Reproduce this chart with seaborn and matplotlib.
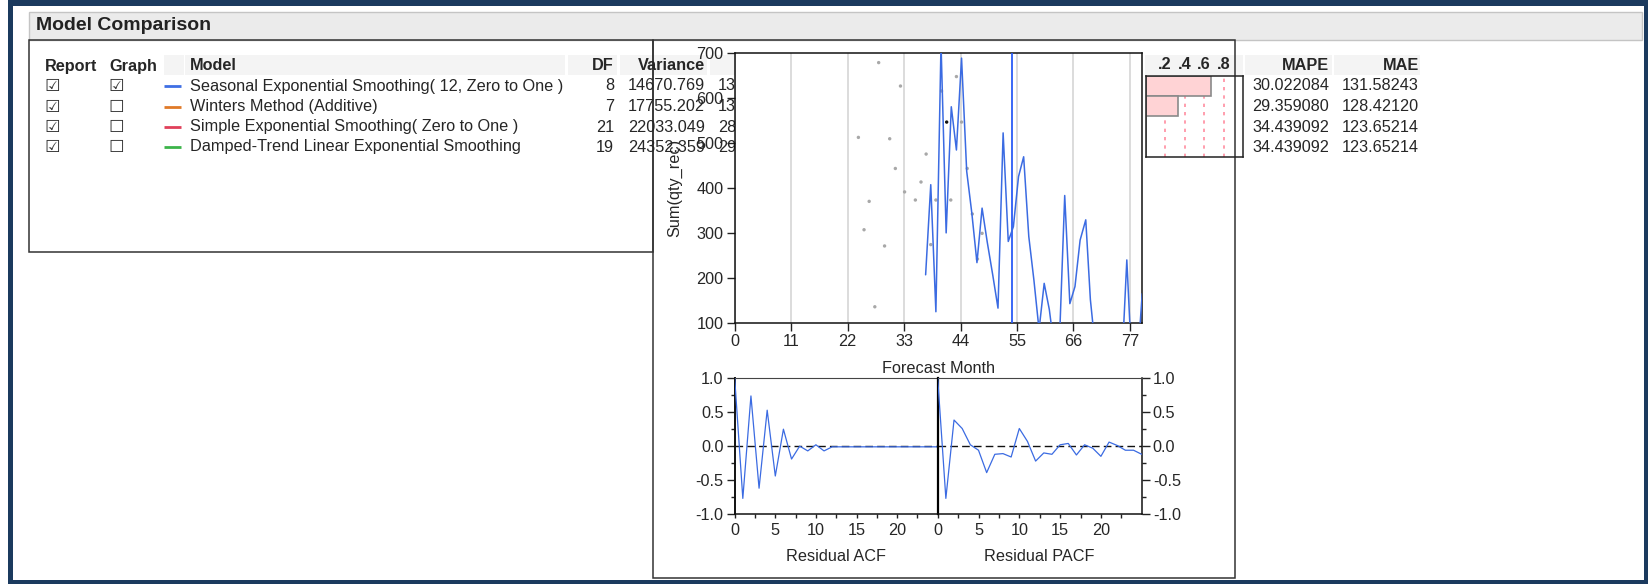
import numpy as np
import pandas as pd
import seaborn as sns
import matplotlib.pyplot as plt
from matplotlib.patches import Rectangle

W, H = 1648, 584

# ---- table data ----
models = ['Seasonal Exponential Smoothing( 12, Zero to One )',
          'Winters Method (Additive)',
          'Simple Exponential Smoothing( Zero to One )',
          'Damped-Trend Linear Exponential Smoothing']
model_colors = ['#3f6fe4', '#e07a28', '#e0405a', '#3cb44a']
report_on = [True, True, True, True]
graph_on = [True, False, False, False]
df_vals = ['8', '7', '21', '19']
variance = ['14670.769', '17755.202', '22033.049', '24352.359']
hidden_col = ['13', '13', '28', '29']
rsq = [0.67, 0.33, 0.0, 0.0]
rsq_ticks = [0.2, 0.4, 0.6, 0.8]
mape = ['30.022084', '29.359080', '34.439092', '34.439092']
mae = ['131.58243', '128.42120', '123.65214', '123.65214']

# ---- forecast plot data ----
fc_month = [37.2, 38.2, 39.2, 40.2, 41.2, 42.2, 43.2, 44.2, 45.2, 46.2, 47.2, 48.2,
            49.2, 50.3, 51.3, 52.3, 53.3, 54.3, 55.3, 56.3, 57.3, 58.3, 59.3, 60.3,
            61.3, 62.3, 63.3, 64.3, 65.3, 66.3, 67.3, 68.4, 69.3, 70.3, 71.3, 72.3,
            73.3, 74.3, 75.4, 76.4, 77.4, 78.4, 79.4]
fc_qty = [207, 407, 125, 720, 300, 580, 484, 688, 437, 344, 234, 355,
          280, 205, 133, 522, 281, 314, 425, 469, 292, 195, 85, 188,
          130, 40, 68, 383, 143, 181, 284, 329, 152, 40, 20, 10,
          25, 15, 0, 240, 0, 0, 165]
forecast_origin = 54.1

obs_month = [24.1, 25.2, 26.2, 27.3, 28.05, 29.2, 30.2, 31.3, 32.3, 33.1, 35.2, 36.3,
             37.3, 38.2, 39.2, 40.3, 42.1, 43.2, 44.2, 45.3, 46.3, 47.3, 48.2]
obs_qty = [512, 307, 370, 136, 678, 271, 509, 443, 626, 391, 373, 413,
           475, 274, 373, 615, 373, 647, 546, 443, 342, 242, 299]
sel_month = [41.3]
sel_qty = [546]

# ---- residual ACF / PACF ----
lags = [0, 1, 2, 3, 4, 5, 6, 7, 8, 9, 10, 11, 12, 13, 14, 15, 16, 17, 18, 19, 20,
        21, 22, 23, 24, 25]
acf = [1.0, -0.77, 0.74, -0.62, 0.53, -0.44, 0.25, -0.19, 0.0, -0.07, 0.02, -0.07,
       -0.01, -0.01, -0.01, -0.01, -0.01, -0.01, -0.01, -0.01, -0.01, -0.01, -0.01,
       -0.01, -0.01, -0.01]
pacf = [1.0, -0.77, 0.385, 0.26, 0.02, -0.06, -0.39, -0.12, -0.11, -0.16, 0.26, 0.07,
        -0.22, -0.10, -0.12, 0.02, 0.04, -0.13, 0.02, -0.03, -0.15, 0.06, 0.01,
        -0.06, -0.06, -0.12]

sns.set_theme(style='white')
plt.rcParams['font.family'] = ['Liberation Sans', 'DejaVu Sans']

FS = 11.7
BLUE = '#3b6be2'


def fig_rect(x0, y0, x1, y1):
    return [x0 / W, 1 - y1 / H, (x1 - x0) / W, (y1 - y0) / H]


fig = plt.figure(figsize=(W / 100, H / 100), dpi=100)

# background layer in pixel coordinates: frame, boxes and the report tables
bg = fig.add_axes([0, 0, 1, 1], zorder=0)
bg.set_xlim(0, W)
bg.set_ylim(H, 0)
bg.axis('off')

navy = '#1b3a5e'
for r in [(8, 0, 5, H), (8, 0, W - 8, 6), (W - 4, 0, 4, H), (8, H - 4, W - 8, 4)]:
    bg.add_patch(Rectangle(r[:2], r[2], r[3], color=navy, lw=0))

bg.add_patch(Rectangle((29, 12), 1613, 28, facecolor='#ebebeb', edgecolor='#c4c4c4', lw=1))
bg.text(36, 26, 'Model Comparison', fontsize=14, fontweight='bold', va='center', color='#222222')

bg.add_patch(Rectangle((29, 40), 624, 212, facecolor='none', edgecolor='#333333', lw=1.1, zorder=2))
bg.add_patch(Rectangle((653, 40), 582, 538, facecolor='none', edgecolor='#333333', lw=1.1, zorder=2))

# header bands
for x0, x1 in [(164, 184), (185, 565), (568, 617), (620, 707), (710, 736),
               (1145, 1243), (1245, 1332), (1334, 1420)]:
    bg.add_patch(Rectangle((x0, 55), x1 - x0, 20, facecolor='#f4f4f4', lw=0, zorder=1))

hy = 66
bg.text(45, hy, 'Report', fontsize=FS, fontweight='bold', va='center', zorder=3)
bg.text(109, hy, 'Graph', fontsize=FS, fontweight='bold', va='center', zorder=3)
bg.text(190, hy, 'Model', fontsize=FS, fontweight='bold', va='center', zorder=3)
bg.text(614, hy, 'DF', fontsize=FS, fontweight='bold', va='center', ha='right', zorder=3)
bg.text(705, hy, 'Variance', fontsize=FS, fontweight='bold', va='center', ha='right', zorder=3)
bg.text(1329, hy, 'MAPE', fontsize=FS, fontweight='bold', va='center', ha='right', zorder=3)
bg.text(1419, hy, 'MAE', fontsize=FS, fontweight='bold', va='center', ha='right', zorder=3)

row_y = [86, 106.5, 127, 147]
for i, y in enumerate(row_y):
    bg.text(44, y, '☑' if report_on[i] else '☐', fontsize=12.5, family='DejaVu Sans',
            va='center', color='#333333', zorder=3)
    bg.text(108, y, '☑' if graph_on[i] else '☐', fontsize=12.5, family='DejaVu Sans',
            va='center', color='#333333', zorder=3)
    bg.plot([164, 181], [y, y], color=model_colors[i], lw=2, solid_capstyle='butt', zorder=3)
    bg.text(190, y, models[i], fontsize=FS, va='center', zorder=3)
    bg.text(614, y, df_vals[i], fontsize=FS, va='center', ha='right', zorder=3)
    bg.text(705, y, variance[i], fontsize=FS, va='center', ha='right', zorder=3)
    bg.text(718, y, hidden_col[i], fontsize=FS, va='center', zorder=3)
    bg.text(1329, y, mape[i], fontsize=FS, va='center', ha='right', zorder=3)
    bg.text(1419, y, mae[i], fontsize=FS, va='center', ha='right', zorder=3)

# small bar column inside the table
axb = fig.add_axes(fig_rect(1145.7, 75.7, 1243, 156.7), zorder=1)
axb.patch.set_alpha(0)
for t in rsq_ticks:
    axb.axvline(t, color='#ff8da0', lw=1.2, ls=(0, (2, 3)), zorder=0)
bar_df = pd.DataFrame({'model': models, 'rsq': rsq})
sns.barplot(data=bar_df, x='rsq', y='model', orient='h', color='#ffd3d5', saturation=1,
            edgecolor='#8a8a8a', linewidth=1.2, width=1.0, ax=axb, zorder=2)
axb.set_xlim(0, 1)
axb.set_ylim(3.5, -0.5)
axb.set_yticks([])
axb.set_xlabel('')
axb.set_ylabel('')
axb.xaxis.tick_top()
axb.set_xticks(rsq_ticks)
axb.set_xticklabels(['.2', '.4', '.6', '.8'], fontsize=FS, fontweight='bold')
axb.tick_params(axis='x', length=0, pad=3)
for s in axb.spines.values():
    s.set_color('#222222')
    s.set_linewidth(1.1)

# forecast plot
ax = fig.add_axes(fig_rect(734.7, 52.7, 1141.7, 323), zorder=2)
ax.set_facecolor('white')
ax.grid(axis='x', color='#d6d6d6', lw=1.2)
ax.axvline(forecast_origin, color='#2a5cf6', lw=1.3, zorder=3)
sns.scatterplot(x=obs_month, y=obs_qty, color='#a8a8a8', s=6, edgecolor='none', ax=ax, zorder=2)
sns.scatterplot(x=sel_month, y=sel_qty, color='#111111', s=6, edgecolor='none', ax=ax, zorder=2)
sns.lineplot(x=fc_month, y=fc_qty, color=BLUE, lw=1.1, ax=ax, zorder=4)
ax.set_xlim(0, 79.3)
ax.set_ylim(100, 700)
ax.set_xticks([0, 11, 22, 33, 44, 55, 66, 77])
ax.set_yticks([100, 200, 300, 400, 500, 600, 700])
ax.tick_params(axis='both', direction='out', length=6, width=1, labelsize=FS, color='#222222',
               bottom=True, left=True, pad=2)
ax.set_xlabel('Forecast Month', fontsize=FS)
ax.set_ylabel('Sum(qty_rec)', fontsize=FS)
ax.xaxis.set_label_coords(0.5, -0.139)
ax.yaxis.set_label_coords(-0.128, 0.5)
for s in ax.spines.values():
    s.set_color('#111111')
    s.set_linewidth(1.1)

# residual ACF / PACF
ax_acf = fig.add_axes(fig_rect(734.7, 378.3, 937.7, 514), zorder=1.5)
ax_pacf = fig.add_axes(fig_rect(937.7, 378.3, 1141.7, 514), zorder=1.5)
for a, vals, name in [(ax_acf, acf, 'Residual ACF'), (ax_pacf, pacf, 'Residual PACF')]:
    a.set_facecolor('white')
    a.axhline(0, color='#111111', lw=1.0, ls=(0, (5.5, 3)), zorder=1)
    sns.lineplot(x=lags, y=vals, color=BLUE, lw=0.9, ax=a, zorder=3)
    a.set_xlim(0, 25)
    a.set_ylim(-1, 1)
    a.set_xticks([0, 5, 10, 15, 20])
    a.set_xticks([2.5, 7.5, 12.5, 17.5, 22.5], minor=True)
    a.set_yticks([-1, -0.5, 0, 0.5, 1])
    a.set_yticklabels(['-1.0', '-0.5', '0.0', '0.5', '1.0'])
    a.set_yticks([-0.75, -0.25, 0.25, 0.75], minor=True)
    a.tick_params(axis='x', which='both', direction='out', length=3.2, width=1,
                  labelsize=FS, color='#222222', bottom=True, pad=3)
    a.set_xlabel(name, fontsize=FS, labelpad=8)
    a.spines['top'].set_color('#444444')
    a.spines['top'].set_linewidth(0.8)
    a.spines['bottom'].set_color('#111111')
    a.spines['bottom'].set_linewidth(1.1)

ax_acf.spines['right'].set_visible(False)
ax_acf.spines['left'].set_color('#111111')
ax_acf.spines['left'].set_linewidth(1.4)
ax_acf.tick_params(axis='y', which='major', direction='out', length=6, width=1,
                   labelsize=FS, color='#222222', left=True, pad=2)
ax_acf.tick_params(axis='y', which='minor', direction='out', length=3.2, width=1,
                   color='#222222', left=True)

ax_pacf.spines['left'].set_color('#000000')
ax_pacf.spines['left'].set_linewidth(1.6)
ax_pacf.spines['right'].set_color('#111111')
ax_pacf.spines['right'].set_linewidth(1.1)
ax_pacf.yaxis.tick_right()
ax_pacf.tick_params(axis='y', which='major', direction='out', length=6, width=1,
                    labelsize=FS, color='#222222', right=True, left=False, pad=2)
ax_pacf.tick_params(axis='y', which='minor', direction='out', length=3.2, width=1,
                    color='#222222', right=True, left=False)

fig.savefig('out.png', dpi=100, facecolor='white')
